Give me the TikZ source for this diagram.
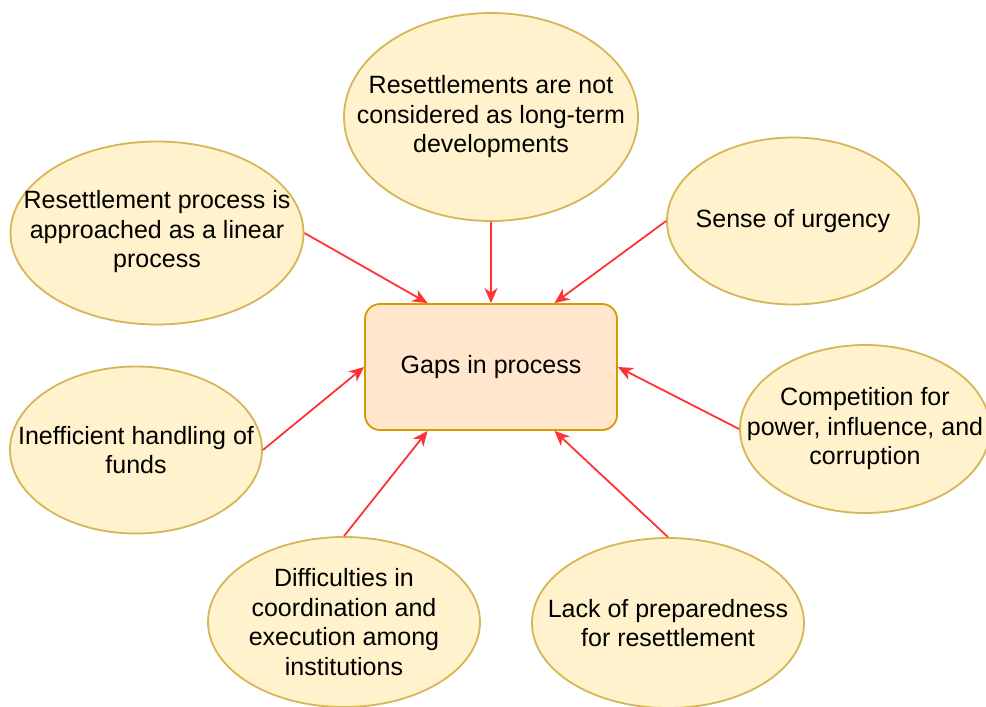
\documentclass[tikz,border=0pt]{standalone}
\usepackage{fontspec}
\setmainfont{Liberation Sans}
\usetikzlibrary{shapes.geometric,arrows.meta,calc}
\definecolor{efill}{HTML}{FFF2CC}
\definecolor{edraw}{HTML}{D6B656}
\definecolor{rfill}{HTML}{FFE6CC}
\definecolor{rdraw}{HTML}{D79B00}
\definecolor{arr}{HTML}{FF3333}
\begin{document}
\begin{tikzpicture}[x=1pt,y=-1pt,
  txt/.style={align=center,inner sep=0pt,font=\fontsize{25}{29.5}\selectfont},
  bubble/.style={ellipse,draw=edraw,fill=efill,line width=1.8pt,inner sep=0pt},
  gapbox/.style={rectangle,rounded corners=15pt,draw=rdraw,fill=rfill,line width=1.8pt,
    minimum width=252pt,minimum height=126pt,inner sep=0pt,txt},
  link/.style={draw=arr,line width=1.8pt,-{Stealth[length=15pt,width=13pt,inset=4.5pt]}}]
\useasboundingbox (0,0) rectangle (986,707);
\clip (0,0) rectangle (986,707);
\node[gapbox] (gap) at (491,367) {Gaps in process};
\node[bubble,minimum width=294pt,minimum height=208pt,
  label={[txt]center:Resettlements are not\\considered as long-term\\developments}] (top) at (491,117) {};
\node[bubble,minimum width=293pt,minimum height=183pt,
  label={[txt,yshift=1pt]center:Resettlement process is\\approached as a linear\\process}] (tl) at (157,233) {};
\node[bubble,minimum width=252pt,minimum height=167pt,
  label={[txt]center:Sense of urgency}] (sense) at (793,221) {};
\node[bubble,minimum width=252pt,minimum height=167pt,
  label={[txt]center:Inefficient handling of\\funds}] (left) at (136,450) {};
\node[bubble,minimum width=250pt,minimum height=168pt,
  label={[txt]center:Competition for\\power, influence, and\\corruption}] (comp) at (865,429) {};
\node[bubble,minimum width=272pt,minimum height=170pt,
  label={[txt]center:Difficulties in\\coordination and\\execution among\\institutions}] (diff) at (344,622) {};
\node[bubble,minimum width=272pt,minimum height=170pt,
  label={[txt]center:Lack of preparedness\\for resettlement}] (lack) at (668,623) {};
\coordinate (gn1) at ($(gap.north west)!0.25!(gap.north east)$);
\coordinate (gn3) at ($(gap.north west)!0.75!(gap.north east)$);
\coordinate (gs1) at ($(gap.south west)!0.25!(gap.south east)$);
\coordinate (gs3) at ($(gap.south west)!0.75!(gap.south east)$);
\draw[link] (top.south) -- (gap.north);
\draw[link] (tl.east) -- (gn1);
\draw[link] (sense.west) -- (gn3);
\draw[link] (left.east) -- (gap.west);
\draw[link] (comp.west) -- (gap.east);
\draw[link] (diff.north) -- (gs1);
\draw[link] (lack.north) -- (gs3);
\end{tikzpicture}
\end{document}
